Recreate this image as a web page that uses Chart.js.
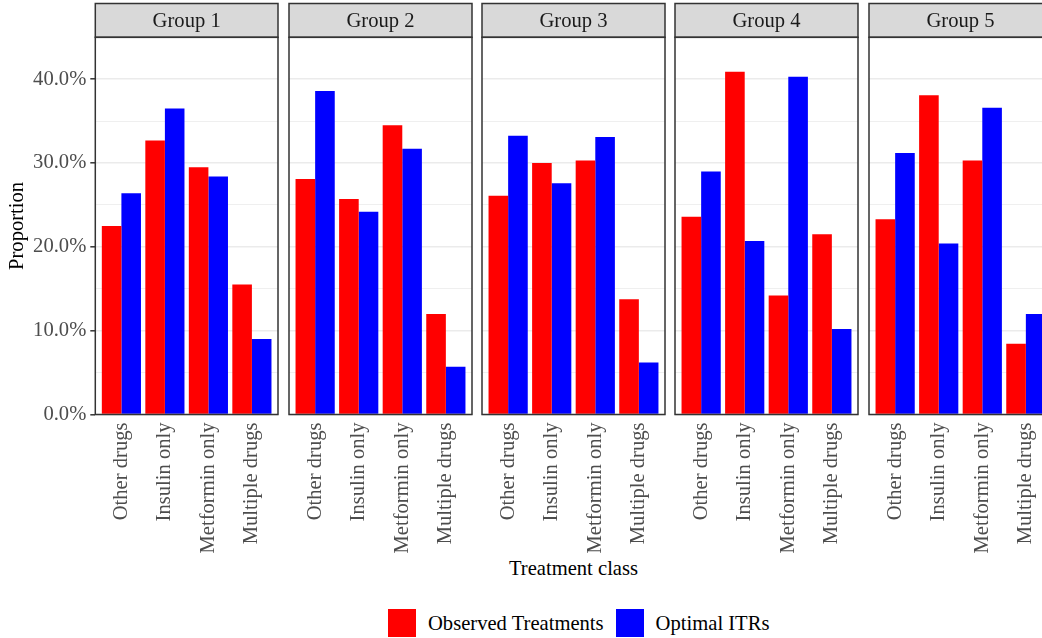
<!DOCTYPE html>
<html>
<head>
<meta charset="utf-8">
<title>Treatment class by group</title>
<script src="https://cdn.jsdelivr.net/npm/chart.js"></script>
<style>
    body { margin: 0; background: #fff; }
    #wrap { position: relative; width: 1042px; height: 638px; overflow: hidden; font-family: 'Liberation Serif', serif; }
    #wrap canvas { position: absolute; top: 0; }
    .xtitle { position: absolute; left: 95px; width: 957px; top: 556px; line-height: 24px; text-align: center; font-size: 20.6px; color: #000; }
    .legend { position: absolute; left: 388px; top: 609px; display: flex; align-items: center; font-size: 20.6px; color: #000; }
    .legend .sw { width: 28px; height: 28px; margin-right: 12px; }
    .legend .lbl { margin-right: 12px; line-height: 28px; }
</style>
</head>
<body>
<div id="wrap">
    <div class="xtitle">Treatment class</div>
    <div class="legend" id="legend"></div>
</div>
<script>
// data (percent)
const categories = ['Other drugs', 'Insulin only', 'Metformin only', 'Multiple drugs'];
const groups = ['Group 1', 'Group 2', 'Group 3', 'Group 4', 'Group 5'];
const seriesNames = ['Observed Treatments', 'Optimal ITRs'];
const seriesColors = ['#FF0000', '#0000FF'];

const observed = [
    [22.5, 32.7, 29.5, 15.5],
    [28.1, 25.7, 34.5, 12.0],
    [26.1, 30.0, 30.3, 13.75],
    [23.6, 40.9, 14.2, 21.5],
    [23.3, 38.1, 30.3, 8.45]
];
const optimal = [
    [26.4, 36.5, 28.4, 9.0],
    [38.6, 24.2, 31.7, 5.7],
    [33.25, 27.6, 33.1, 6.2],
    [29.0, 20.7, 40.3, 10.2],
    [31.2, 20.4, 36.6, 12.0]
];
const yTicks = [0, 10, 20, 30, 40];

// layout of the facet panels
const PANEL_LEFT = 95.3;
const PANEL_STEP = 193.35;
const PANEL_W = 183;
const PANEL_TOP = 37.3;
const PANEL_BOTTOM = 414.5;
const STRIP_TOP = 3.5;
const CANVAS_H = 560;
const FONT = 'Liberation Serif';
const FONT_SIZE = 20.6;

// draws the ggplot-like strip and the panel frame
const facetFrame = {
    id: 'facetFrame',
    afterDraw(chart) {
        const a = chart.chartArea;
        const c = chart.ctx;
        c.save();
        c.fillStyle = '#D9D9D9';
        c.fillRect(a.left, STRIP_TOP, a.right - a.left, a.top - STRIP_TOP);
        c.strokeStyle = '#333333';
        c.lineWidth = 1.5;
        c.strokeRect(a.left, STRIP_TOP, a.right - a.left, a.top - STRIP_TOP);
        c.strokeRect(a.left, a.top, a.right - a.left, a.bottom - a.top);
        c.fillStyle = '#1A1A1A';
        c.font = FONT_SIZE + 'px ' + FONT;
        c.textAlign = 'center';
        c.textBaseline = 'middle';
        c.fillText(chart.options.plugins.facetFrame.label, (a.left + a.right) / 2, (STRIP_TOP + a.top) / 2 + 1);
        c.restore();
    }
};

const wrap = document.getElementById('wrap');

groups.forEach((g, i) => {
    const first = i === 0;
    const left = PANEL_LEFT + i * PANEL_STEP;
    const cv = document.createElement('canvas');
    const cw = first ? Math.round(left + PANEL_W + 2) : PANEL_W + 4;
    cv.width = cw;
    cv.height = CANVAS_H;
    cv.style.left = (first ? 0 : left - 2) + 'px';
    cv.style.width = cw + 'px';
    cv.style.height = CANVAS_H + 'px';
    wrap.appendChild(cv);

    const rows = [observed[i], optimal[i]];

    new Chart(cv.getContext('2d'), {
        type: 'bar',
        data: {
            datasets: rows.map((vals, s) => ({
                label: seriesNames[s],
                data: vals.map((v, k) => ({ x: k, y: v })),
                backgroundColor: seriesColors[s],
                borderWidth: 0,
                categoryPercentage: 0.9,
                barPercentage: 1
            }))
        },
        plugins: [facetFrame],
        options: {
            responsive: false,
            animation: false,
            layout: { padding: { top: PANEL_TOP, bottom: 0, left: first ? 0 : 2, right: 2 } },
            scales: {
                x: {
                    type: 'linear',
                    min: -0.6,
                    max: 3.6,
                    offset: false,
                    grid: { display: false, drawTicks: false },
                    border: { display: false },
                    afterBuildTicks: scale => {
                        scale.ticks = categories.map((c, k) => ({ value: k }));
                    },
                    afterFit: scale => {
                        scale.height = CANVAS_H - PANEL_BOTTOM;
                        scale.paddingLeft = 0;
                        scale.paddingRight = 0;
                    },
                    ticks: {
                        autoSkip: false,
                        minRotation: 90,
                        maxRotation: 90,
                        padding: 8,
                        color: '#4D4D4D',
                        font: { family: FONT, size: FONT_SIZE },
                        callback: v => categories[v]
                    }
                },
                y: {
                    min: 0,
                    max: 45,
                    grid: {
                        color: '#EBEBEB',
                        lineWidth: ctx => (ctx.tick && ctx.tick.value % 10 === 0) ? 1.6 : 0.8,
                        drawTicks: first,
                        tickLength: 5,
                        tickWidth: 1.5,
                        tickColor: ctx => (ctx.tick && yTicks.includes(ctx.tick.value)) ? '#333333' : 'rgba(0,0,0,0)'
                    },
                    border: { display: false },
                    afterFit: scale => {
                        scale.width = first ? PANEL_LEFT : 0;
                        scale.paddingTop = 0;
                        scale.paddingBottom = 0;
                    },
                    ticks: {
                        display: first,
                        stepSize: 5,
                        padding: 4,
                        color: '#4D4D4D',
                        font: { family: FONT, size: FONT_SIZE },
                        callback: v => yTicks.includes(v) ? v.toFixed(1) + '%' : ''
                    },
                    title: {
                        display: first,
                        text: 'Proportion',
                        color: '#000000',
                        font: { family: FONT, size: FONT_SIZE },
                        padding: { top: 5, bottom: 0 }
                    }
                }
            },
            plugins: {
                legend: { display: false },
                tooltip: { enabled: false },
                facetFrame: { label: g }
            }
        }
    });
});

// legend below the panels
const legend = document.getElementById('legend');
seriesNames.forEach((name, s) => {
    const sw = document.createElement('span');
    sw.className = 'sw';
    sw.style.background = seriesColors[s];
    const lbl = document.createElement('span');
    lbl.className = 'lbl';
    lbl.textContent = name;
    legend.appendChild(sw);
    legend.appendChild(lbl);
});
</script>
</body>
</html>
